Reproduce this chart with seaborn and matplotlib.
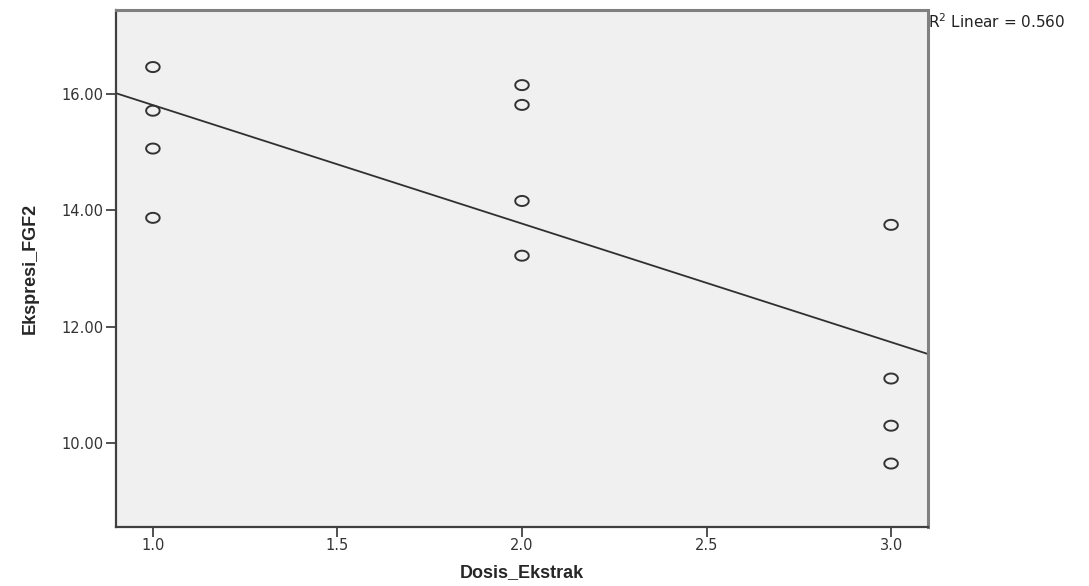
import numpy as np
import pandas as pd
import matplotlib
matplotlib.use("Agg")
import matplotlib.pyplot as plt
from matplotlib.path import Path
import seaborn as sns

# data
dosis = [1, 1, 1, 1, 2, 2, 2, 2, 3, 3, 3, 3]
ekspresi = [16.46, 15.71, 15.06, 13.87,
            16.15, 15.81, 14.16, 13.22,
            13.75, 11.11, 10.30, 9.65]
x_ticks = [1.0, 1.5, 2.0, 2.5, 3.0]
y_ticks = [10.0, 12.0, 14.0, 16.0]
r2_label = "R$^2$ Linear = 0.560"
title = "FGF_2"

df = pd.DataFrame({"Dosis_Ekstrak": dosis, "Ekspresi_FGF2": ekspresi})

sns.set_theme(style="white")
plt.rcParams["font.family"] = ["DejaVu Sans"]

fig = plt.figure(figsize=(10.89, 5.86), dpi=100)
ax = fig.add_axes([116 / 1089, 59 / 586, 812 / 1089, 517 / 586])
ax.set_facecolor("#f0f0f0")
ax.set_xlim(0.9, 3.1)
ax.set_ylim(8.56, 17.44)

# slightly wide open circle, like the SPSS marker
t = np.linspace(0, 2 * np.pi, 64)
ell = Path(np.column_stack([1.35 * np.cos(t), np.sin(t)]))

sns.regplot(data=df, x="Dosis_Ekstrak", y="Ekspresi_FGF2", ax=ax,
            scatter=False, ci=None, truncate=False,
            line_kws={"color": "#303030", "linewidth": 1.3})
sns.scatterplot(data=df, x="Dosis_Ekstrak", y="Ekspresi_FGF2", ax=ax,
                marker=ell, s=95, facecolor="none", edgecolor="#333333",
                linewidth=1.4, zorder=3)

ax.set_xticks(x_ticks)
ax.set_xticklabels([f"{v:.1f}" for v in x_ticks])
ax.set_yticks(y_ticks)
ax.set_yticklabels([f"{v:.2f}" for v in y_ticks])
ax.tick_params(axis="both", direction="out", length=7, width=1.2,
               color="#333333", labelsize=10.5, labelcolor="#333333")
ax.tick_params(axis="x", pad=1)
ax.tick_params(axis="y", pad=2)
ax.tick_params(bottom=True, left=True)

for side in ["left", "bottom"]:
    ax.spines[side].set_color("#404040")
    ax.spines[side].set_linewidth(1.6)
for side in ["top", "right"]:
    ax.spines[side].set_color("#808080")
    ax.spines[side].set_linewidth(2.2)

ax.set_xlabel("Dosis_Ekstrak", fontsize=13, fontweight="bold",
              family="Liberation Sans", labelpad=8)
ax.set_ylabel("Ekspresi_FGF2", fontsize=13, fontweight="bold",
              family="Liberation Sans", labelpad=16)

ax.text(1.0, 0.977, r2_label, transform=ax.transAxes, fontsize=11,
        color="#222222", ha="left", va="center")

# title is cut off at the top edge in the original
fig.text(0.49, 1.0 + 0.021, title, fontsize=15, fontweight="bold",
         color="#888888", ha="center", va="center")

fig.savefig("out.png", dpi=100)
